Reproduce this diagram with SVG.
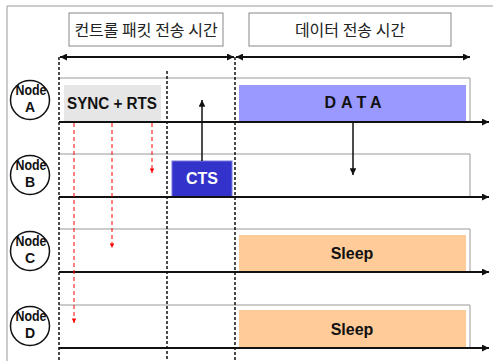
<svg xmlns="http://www.w3.org/2000/svg" width="493" height="361" viewBox="0 0 493 361">
  <style>
    .frame { fill: none; stroke: #999; stroke-width: 1; }
    .label-box { fill: #fff; stroke: #888; stroke-width: 1; }
    .label { font-family: "Noto Sans CJK KR", "Noto Sans", sans-serif; font-size: 16px; fill: #222; text-anchor: middle; }
    .row { fill: none; stroke: #999; stroke-width: 1; }
    .axis { stroke: #111; stroke-width: 2; fill: none; }
    .guide { stroke: #111; stroke-width: 1.5; stroke-dasharray: 3 2; fill: none; }
    .span { stroke: #111; stroke-width: 2; fill: none; }
    .sig { stroke: #111; stroke-width: 1.5; fill: none; }
    .rts { stroke: #f00; stroke-width: 1; stroke-dasharray: 4 3; fill: none; }
    .node circle { fill: #fff; stroke: #111; stroke-width: 1.5; }
    .node text { font-family: "Liberation Sans", Arial, sans-serif; font-weight: bold; font-size: 14px; fill: #111; text-anchor: middle; }
    .blk { font-family: "Liberation Sans", Arial, sans-serif; font-weight: bold; font-size: 16px; fill: #111; text-anchor: middle; }
  </style>
  <defs>
    <marker id="ah" viewBox="0 0 10 10" refX="10" refY="5" markerWidth="4.5" markerHeight="3.5" orient="auto-start-reverse" markerUnits="strokeWidth">
      <path d="M0,0 L10,5 L0,10 Z" fill="#111"/>
    </marker>
    <marker id="ah-sig" viewBox="0 0 10 10" refX="10" refY="5" markerWidth="5.5" markerHeight="4.5" orient="auto" markerUnits="strokeWidth">
      <path d="M0,0 L10,5 L0,10 Z" fill="#111"/>
    </marker>
    <marker id="ah-axis" viewBox="0 0 10 10" refX="10" refY="5" markerWidth="4" markerHeight="3.5" orient="auto" markerUnits="strokeWidth">
      <path d="M0,0 L10,5 L0,10 Z" fill="#111"/>
    </marker>
    <marker id="ah-red" viewBox="0 0 10 10" refX="10" refY="5" markerWidth="6" markerHeight="4.5" orient="auto" markerUnits="strokeWidth">
      <path d="M0,0 L10,5 L0,10 Z" fill="#f00"/>
    </marker>
  </defs>

  <rect fill="#fff" x="0" y="0" width="493" height="361"/>
  <!-- outer frame -->
  <path class="frame" d="M7,361 V6 H493"/>

  <!-- period labels -->
  <g id="label-control">
    <rect class="label-box" x="69" y="13" width="154" height="33"/>
    <text class="label" x="146" y="36">컨트롤 패킷 전송 시간</text>
  </g>
  <g id="label-data">
    <rect class="label-box" x="249" y="13" width="202" height="33"/>
    <text class="label" x="350" y="36">데이터 전송 시간</text>
  </g>

  <!-- row frames -->
  <path class="row" d="M59,78 H470 V122"/>
  <path class="row" d="M59,154 H470 V197"/>
  <path class="row" d="M59,229 H470 V272"/>
  <path class="row" d="M59,305 H470 V348"/>

  <!-- blocks -->
  <g id="sync-rts">
    <rect x="64" y="85" width="97" height="37" fill="#e6e6e6"/>
    <text class="blk" x="112" y="109" textLength="90" lengthAdjust="spacingAndGlyphs">SYNC + RTS</text>
  </g>
  <g id="data">
    <rect x="239" y="85" width="227" height="36" fill="#9999ff"/>
    <text class="blk" x="355.5" y="108" letter-spacing="5">DATA</text>
  </g>
  <g id="cts">
    <rect x="172" y="161" width="60" height="36" fill="#3333cc" stroke="#7777dd" stroke-width="1"/>
    <text class="blk" x="202" y="184" style="fill:#fff">CTS</text>
  </g>
  <g id="sleep-c">
    <rect x="239" y="235" width="227" height="37" fill="#ffcc99"/>
    <text class="blk" x="352" y="259">Sleep</text>
  </g>
  <g id="sleep-d">
    <rect x="239" y="310" width="227" height="38" fill="#ffcc99"/>
    <text class="blk" x="352" y="335">Sleep</text>
  </g>

  <!-- nodes -->
  <g id="node-a" class="node">
    <circle cx="30" cy="100" r="19.5"/>
    <text x="31" y="95" textLength="31" lengthAdjust="spacingAndGlyphs">Node</text>
    <text x="30" y="112">A</text>
  </g>
  <g id="node-b" class="node">
    <circle cx="30" cy="175" r="19.5"/>
    <text x="31" y="170" textLength="31" lengthAdjust="spacingAndGlyphs">Node</text>
    <text x="30" y="187">B</text>
  </g>
  <g id="node-c" class="node">
    <circle cx="30" cy="251" r="19.5"/>
    <text x="31" y="246" textLength="31" lengthAdjust="spacingAndGlyphs">Node</text>
    <text x="30" y="263">C</text>
  </g>
  <g id="node-d" class="node">
    <circle cx="30" cy="326" r="19.5"/>
    <text x="31" y="321" textLength="31" lengthAdjust="spacingAndGlyphs">Node</text>
    <text x="30" y="338">D</text>
  </g>

  <g id="connectors">
    <!-- time axes -->
    <line class="axis" x1="59" y1="122" x2="489" y2="122" marker-end="url(#ah-axis)"/>
    <line class="axis" x1="59" y1="197" x2="489" y2="197" marker-end="url(#ah-axis)"/>
    <line class="axis" x1="59" y1="272" x2="489" y2="272" marker-end="url(#ah-axis)"/>
    <line class="axis" x1="59" y1="348" x2="489" y2="348" marker-end="url(#ah-axis)"/>

    <!-- phase boundaries -->
    <line class="guide" x1="59" y1="57" x2="59" y2="361"/>
    <line class="guide" x1="167" y1="71" x2="167" y2="361"/>
    <line class="guide" x1="235" y1="57" x2="235" y2="361"/>

    <!-- phase spans -->
    <line class="span" x1="60" y1="57" x2="234" y2="57" marker-start="url(#ah)" marker-end="url(#ah)"/>
    <line class="span" x1="236" y1="57" x2="470" y2="57" marker-start="url(#ah)" marker-end="url(#ah)"/>

    <!-- SYNC + RTS broadcast -->
    <line class="rts" x1="74" y1="123" x2="74" y2="323" marker-end="url(#ah-red)"/>
    <line class="rts" x1="112" y1="123" x2="112" y2="248" marker-end="url(#ah-red)"/>
    <line class="rts" x1="152" y1="123" x2="152" y2="173" marker-end="url(#ah-red)"/>

    <!-- CTS reply and data -->
    <line class="sig" x1="202" y1="161" x2="202" y2="100" marker-end="url(#ah-sig)"/>
    <line class="sig" x1="353" y1="121" x2="353" y2="175" marker-end="url(#ah-sig)"/>
  </g>
</svg>
